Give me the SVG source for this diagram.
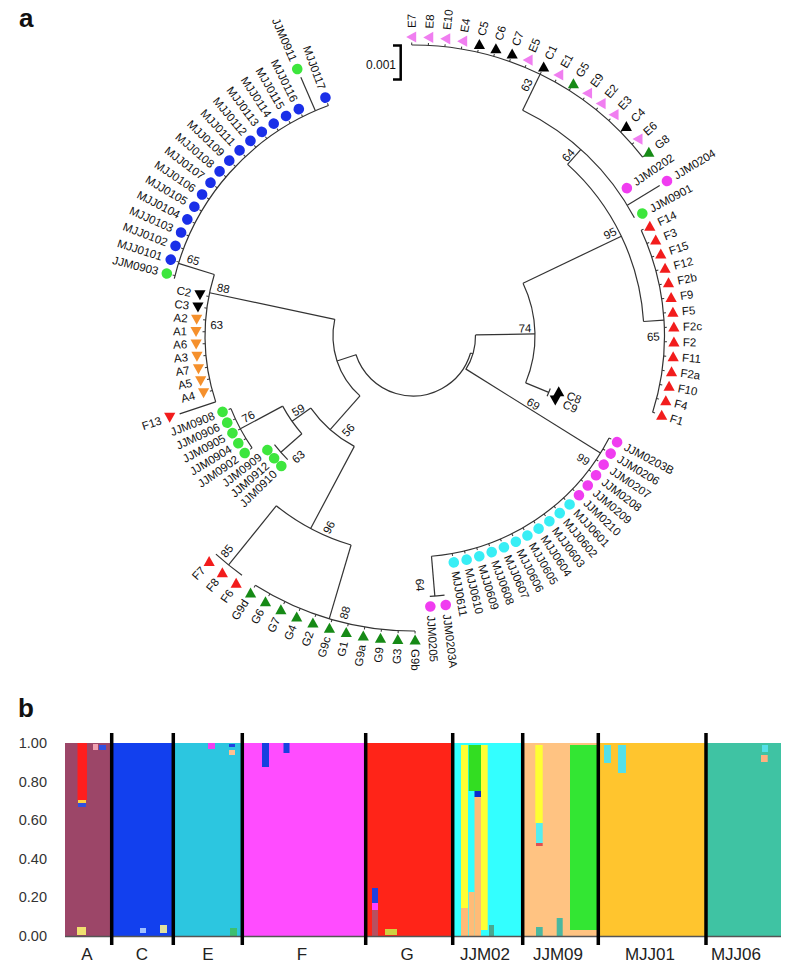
<svg xmlns="http://www.w3.org/2000/svg" width="796" height="968" viewBox="0 0 796 968">
<style>
text{font-family:"Liberation Sans",Arial,sans-serif;fill:#111}
.a{fill:none;stroke:#333;stroke-width:1.2}
.tk{stroke:#333;stroke-width:1}
.leaf text{font-size:11.5px;dominant-baseline:central}
.leaf text.l{text-anchor:end}
.bs{font-size:11.5px;text-anchor:middle;dominant-baseline:central}
.yl{font-size:14.5px;text-anchor:end;dominant-baseline:central;fill:#333}
.gl{font-size:17px;text-anchor:middle;fill:#222}
.sep{stroke:#000;stroke-width:3.5}
</style>
<defs>
<path id="tu" d="M0,-5.5L5.6,4.5L-5.6,4.5Z"/>
<path id="td" d="M0,5.5L5.6,-4.5L-5.6,-4.5Z"/>
<path id="tl" d="M-5.5,0L4.5,-5.6L4.5,5.6Z"/>
</defs>
<rect width="796" height="968" fill="#fff"/>
<text x="19" y="27" font-size="26" font-weight="bold">a</text>
<text x="18" y="717" font-size="26" font-weight="bold">b</text>

<g id="scale-bar">
<path d="M393,45.5H400.7V79.5H393" fill="none" stroke="#000" stroke-width="2.5"/>
<text x="396" y="65" font-size="12" text-anchor="end" dominant-baseline="central">0.001</text>
</g>

<g id="connectors">
<circle class="a" cx="413" cy="336" r="60" stroke-dasharray="152.16 4000" transform="rotate(16.5 413 336)"/>
<circle class="a" cx="413" cy="336" r="62.5" stroke-dasharray="36.54 4000" transform="rotate(-1 413 336)"/>
<circle class="a" cx="413" cy="336" r="122" stroke-dasharray="102.57 4000" transform="rotate(-25.6 413 336)"/>
<circle class="a" cx="413" cy="336" r="231" stroke-dasharray="179.01 4000" transform="rotate(-48 413 336)"/>
<circle class="a" cx="413" cy="336" r="251" stroke-dasharray="157.62 4000" transform="rotate(-64.1 413 336)"/>
<circle class="a" cx="413" cy="336" r="291" stroke-dasharray="265.73 4000" transform="rotate(-90.25 413 336)"/>
<circle class="a" cx="413" cy="336" r="251.5" stroke-dasharray="186.6 4000" transform="rotate(-24.85 413 336)"/>
<circle class="a" cx="413" cy="336" r="147" stroke-dasharray="8.39 4000" transform="rotate(20.93 413 336)"/>
<circle class="a" cx="413" cy="336" r="221" stroke-dasharray="222.67 4000" transform="rotate(27.47 413 336)"/>
<circle class="a" cx="413" cy="336" r="261" stroke-dasharray="14.9 4000" transform="rotate(83.06 413 336)"/>
<circle class="a" cx="413" cy="336" r="80" stroke-dasharray="84.47 4000" transform="rotate(131.5 413 336)"/>
<circle class="a" cx="413" cy="336" r="208" stroke-dasharray="129.46 4000" transform="rotate(161.54 413 336)"/>
<circle class="a" cx="413" cy="336" r="245.5" stroke-dasharray="241.36 4000" transform="rotate(193.5 413 336)"/>
<circle class="a" cx="413" cy="336" r="125" stroke-dasharray="58.47 4000" transform="rotate(118 413 336)"/>
<circle class="a" cx="413" cy="336" r="148" stroke-dasharray="33.79 4000" transform="rotate(138.65 413 336)"/>
<circle class="a" cx="413" cy="336" r="196" stroke-dasharray="44.75 4000" transform="rotate(145.19 413 336)"/>
<circle class="a" cx="413" cy="336" r="176" stroke-dasharray="20.09 4000" transform="rotate(135.38 413 336)"/>
<circle class="a" cx="413" cy="336" r="218" stroke-dasharray="85 4000" transform="rotate(106.5 413 336)"/>
<circle class="a" cx="413" cy="336" r="294" stroke-dasharray="33.56 4000" transform="rotate(125.57 413 336)"/>
<circle class="a" cx="413" cy="336" r="295" stroke-dasharray="168.36 4000" transform="rotate(89.6 413 336)"/>
<line class="a" x1="473" y1="336" x2="475.5" y2="336" transform="rotate(16.5 413 336)"/>
<line class="a" x1="475.5" y1="336" x2="535" y2="336" transform="rotate(-1 413 336)"/>
<line class="a" x1="535" y1="336" x2="644" y2="336" transform="rotate(-25.6 413 336)"/>
<line class="a" x1="644" y1="336" x2="664" y2="336" transform="rotate(-48 413 336)"/>
<line class="a" x1="664" y1="336" x2="704" y2="336" transform="rotate(-64.1 413 336)"/>
<line class="a" x1="664" y1="336" x2="702" y2="336" transform="rotate(-31.39 413 336)"/>
<line class="a" x1="644" y1="336" x2="664.5" y2="336" transform="rotate(-3.6 413 336)"/>
<line class="a" x1="535" y1="336" x2="560" y2="336" transform="rotate(22.57 413 336)"/>
<line class="a" x1="475.5" y1="336" x2="634" y2="336" transform="rotate(32 413 336)"/>
<line class="a" x1="634" y1="336" x2="674" y2="336" transform="rotate(85.2 413 336)"/>
<line class="a" x1="473" y1="336" x2="493" y2="336" transform="rotate(161.8 413 336)"/>
<line class="a" x1="493" y1="336" x2="621" y2="336" transform="rotate(192 413 336)"/>
<line class="a" x1="621" y1="336" x2="658.5" y2="336" transform="rotate(197.2 413 336)"/>
<line class="a" x1="658.5" y1="336" x2="695" y2="336" transform="rotate(246.56 413 336)"/>
<line class="a" x1="621" y1="336" x2="659" y2="336" transform="rotate(161.54 413 336)"/>
<line class="a" x1="493" y1="336" x2="538" y2="336" transform="rotate(131.5 413 336)"/>
<line class="a" x1="538" y1="336" x2="561" y2="336" transform="rotate(144.8 413 336)"/>
<line class="a" x1="561" y1="336" x2="609" y2="336" transform="rotate(151.73 413 336)"/>
<line class="a" x1="561" y1="336" x2="589" y2="336" transform="rotate(138.65 413 336)"/>
<line class="a" x1="538" y1="336" x2="631" y2="336" transform="rotate(118 413 336)"/>
<line class="a" x1="631" y1="336" x2="707" y2="336" transform="rotate(128.84 413 336)"/>
<line class="a" x1="631" y1="336" x2="708" y2="336" transform="rotate(106.5 413 336)"/>
</g>

<g id="bootstrap">
<text class="bs" x="526.7" y="85" transform="rotate(-64.1 526.7 85)">63</text>
<text class="bs" x="568.3" y="155" transform="rotate(-48 568.3 155)">64</text>
<text class="bs" x="610" y="233.3" transform="rotate(-25.6 610 233.3)">95</text>
<text class="bs" x="525" y="328.3" transform="rotate(-1 525 328.3)">74</text>
<text class="bs" x="653.3" y="336.7" transform="rotate(-3.6 653.3 336.7)">65</text>
<text class="bs" x="533.3" y="404" transform="rotate(32 533.3 404)">69</text>
<text class="bs" x="583.3" y="459.3" transform="rotate(32 583.3 459.3)">99</text>
<text class="bs" x="420" y="585" transform="rotate(85.2 420 585)">64</text>
<text class="bs" x="345" y="612.7" transform="rotate(-73.5 345 612.7)">88</text>
<text class="bs" x="329" y="527.3" transform="rotate(-62 329 527.3)">96</text>
<text class="bs" x="227" y="551" transform="rotate(-51.2 227 551)">85</text>
<text class="bs" x="348.3" y="430" transform="rotate(-48.5 348.3 430)">56</text>
<text class="bs" x="298.3" y="410" transform="rotate(-30 298.3 410)">59</text>
<text class="bs" x="298.3" y="456.7" transform="rotate(-41.4 298.3 456.7)">63</text>
<text class="bs" x="248.3" y="416.7" transform="rotate(-28.3 248.3 416.7)">76</text>
<text class="bs" x="223.3" y="288.3" transform="rotate(12 223.3 288.3)">88</text>
<text class="bs" x="216.7" y="325" transform="rotate(-2 216.7 325)">63</text>
<text class="bs" x="193.3" y="260" transform="rotate(17.2 193.3 260)">65</text>
</g>

<g id="leaves">
<g id="leaf-E7" class="leaf" transform="rotate(-90.25 413 336)"><line class="tk" x1="704" y1="336" x2="706.5" y2="336"/><use href="#tl" fill="#f07ef0" transform="translate(712 336) rotate(90.25)"/><text x="721" y="336">E7</text></g>
<g id="leaf-E8" class="leaf" transform="rotate(-86.98 413 336)"><line class="tk" x1="704" y1="336" x2="706.5" y2="336"/><use href="#tl" fill="#f07ef0" transform="translate(712 336) rotate(86.98)"/><text x="721" y="336">E8</text></g>
<g id="leaf-E10" class="leaf" transform="rotate(-83.71 413 336)"><line class="tk" x1="704" y1="336" x2="706.5" y2="336"/><use href="#tl" fill="#f07ef0" transform="translate(712 336) rotate(83.71)"/><text x="721" y="336">E10</text></g>
<g id="leaf-E4" class="leaf" transform="rotate(-80.44 413 336)"><line class="tk" x1="704" y1="336" x2="706.5" y2="336"/><use href="#tl" fill="#f07ef0" transform="translate(712 336) rotate(80.44)"/><text x="721" y="336">E4</text></g>
<g id="leaf-C5" class="leaf" transform="rotate(-77.17 413 336)"><line class="tk" x1="704" y1="336" x2="706.5" y2="336"/><use href="#tu" fill="#000" transform="translate(712 336) rotate(77.17)"/><text x="721" y="336">C5</text></g>
<g id="leaf-C6" class="leaf" transform="rotate(-73.9 413 336)"><line class="tk" x1="704" y1="336" x2="706.5" y2="336"/><use href="#tu" fill="#000" transform="translate(712 336) rotate(73.9)"/><text x="721" y="336">C6</text></g>
<g id="leaf-C7" class="leaf" transform="rotate(-70.63 413 336)"><line class="tk" x1="704" y1="336" x2="706.5" y2="336"/><use href="#tu" fill="#000" transform="translate(712 336) rotate(70.63)"/><text x="721" y="336">C7</text></g>
<g id="leaf-E5" class="leaf" transform="rotate(-67.36 413 336)"><line class="tk" x1="704" y1="336" x2="706.5" y2="336"/><use href="#tl" fill="#f07ef0" transform="translate(712 336) rotate(67.36)"/><text x="721" y="336">E5</text></g>
<g id="leaf-C1" class="leaf" transform="rotate(-64.09 413 336)"><line class="tk" x1="704" y1="336" x2="706.5" y2="336"/><use href="#tu" fill="#000" transform="translate(712 336) rotate(64.09)"/><text x="721" y="336">C1</text></g>
<g id="leaf-E1" class="leaf" transform="rotate(-60.82 413 336)"><line class="tk" x1="704" y1="336" x2="706.5" y2="336"/><use href="#tl" fill="#f07ef0" transform="translate(712 336) rotate(60.82)"/><text x="721" y="336">E1</text></g>
<g id="leaf-G5" class="leaf" transform="rotate(-57.55 413 336)"><line class="tk" x1="704" y1="336" x2="706.5" y2="336"/><use href="#tu" fill="#168a16" transform="translate(712 336) rotate(57.55)"/><text x="721" y="336">G5</text></g>
<g id="leaf-E9" class="leaf" transform="rotate(-54.28 413 336)"><line class="tk" x1="704" y1="336" x2="706.5" y2="336"/><use href="#tl" fill="#f07ef0" transform="translate(712 336) rotate(54.28)"/><text x="721" y="336">E9</text></g>
<g id="leaf-E2" class="leaf" transform="rotate(-51.01 413 336)"><line class="tk" x1="704" y1="336" x2="706.5" y2="336"/><use href="#tl" fill="#f07ef0" transform="translate(712 336) rotate(51.01)"/><text x="721" y="336">E2</text></g>
<g id="leaf-E3" class="leaf" transform="rotate(-47.74 413 336)"><line class="tk" x1="704" y1="336" x2="706.5" y2="336"/><use href="#tl" fill="#f07ef0" transform="translate(712 336) rotate(47.74)"/><text x="721" y="336">E3</text></g>
<g id="leaf-C4" class="leaf" transform="rotate(-44.47 413 336)"><line class="tk" x1="704" y1="336" x2="706.5" y2="336"/><use href="#tu" fill="#000" transform="translate(712 336) rotate(44.47)"/><text x="721" y="336">C4</text></g>
<g id="leaf-E6" class="leaf" transform="rotate(-41.2 413 336)"><line class="tk" x1="704" y1="336" x2="706.5" y2="336"/><use href="#tl" fill="#f07ef0" transform="translate(712 336) rotate(41.2)"/><text x="721" y="336">E6</text></g>
<g id="leaf-G8" class="leaf" transform="rotate(-37.93 413 336)"><line class="tk" x1="704" y1="336" x2="706.5" y2="336"/><use href="#tu" fill="#168a16" transform="translate(712 336) rotate(37.93)"/><text x="721" y="336">G8</text></g>
<g id="leaf-JJM0202" class="leaf" transform="rotate(-34.66 413 336)"><circle cx="673" cy="336" r="5.3" fill="#f03cf0"/><text x="682" y="336">JJM0202</text></g>
<g id="leaf-JJM0204" class="leaf" transform="rotate(-31.39 413 336)"><circle cx="710.5" cy="336" r="5.3" fill="#f03cf0"/><text x="719.5" y="336">JJM0204</text></g>
<g id="leaf-JJM0901" class="leaf" transform="rotate(-28.12 413 336)"><circle cx="673" cy="336" r="5.3" fill="#3de63d"/><text x="682" y="336">JJM0901</text></g>
<g id="leaf-F14" class="leaf" transform="rotate(-24.85 413 336)"><line class="tk" x1="664.5" y1="336" x2="667" y2="336"/><use href="#tu" fill="#f21c1c" transform="translate(674 336) rotate(24.85)"/><text x="683" y="336">F14</text></g>
<g id="leaf-F3" class="leaf" transform="rotate(-21.58 413 336)"><line class="tk" x1="664.5" y1="336" x2="667" y2="336"/><use href="#tu" fill="#f21c1c" transform="translate(674 336) rotate(21.58)"/><text x="683" y="336">F3</text></g>
<g id="leaf-F15" class="leaf" transform="rotate(-18.31 413 336)"><line class="tk" x1="664.5" y1="336" x2="667" y2="336"/><use href="#tu" fill="#f21c1c" transform="translate(674 336) rotate(18.31)"/><text x="683" y="336">F15</text></g>
<g id="leaf-F12" class="leaf" transform="rotate(-15.04 413 336)"><line class="tk" x1="664.5" y1="336" x2="667" y2="336"/><use href="#tu" fill="#f21c1c" transform="translate(674 336) rotate(15.04)"/><text x="683" y="336">F12</text></g>
<g id="leaf-F2b" class="leaf" transform="rotate(-11.77 413 336)"><line class="tk" x1="664.5" y1="336" x2="667" y2="336"/><use href="#tu" fill="#f21c1c" transform="translate(674 336) rotate(11.77)"/><text x="683" y="336">F2b</text></g>
<g id="leaf-F9" class="leaf" transform="rotate(-8.5 413 336)"><line class="tk" x1="664.5" y1="336" x2="667" y2="336"/><use href="#tu" fill="#f21c1c" transform="translate(674 336) rotate(8.5)"/><text x="683" y="336">F9</text></g>
<g id="leaf-F5" class="leaf" transform="rotate(-5.23 413 336)"><line class="tk" x1="664.5" y1="336" x2="667" y2="336"/><use href="#tu" fill="#f21c1c" transform="translate(674 336) rotate(5.23)"/><text x="683" y="336">F5</text></g>
<g id="leaf-F2c" class="leaf" transform="rotate(-1.96 413 336)"><line class="tk" x1="664.5" y1="336" x2="667" y2="336"/><use href="#tu" fill="#f21c1c" transform="translate(674 336) rotate(1.96)"/><text x="683" y="336">F2c</text></g>
<g id="leaf-F2" class="leaf" transform="rotate(1.31 413 336)"><line class="tk" x1="664.5" y1="336" x2="667" y2="336"/><use href="#tu" fill="#f21c1c" transform="translate(674 336) rotate(-1.31)"/><text x="683" y="336">F2</text></g>
<g id="leaf-F11" class="leaf" transform="rotate(4.58 413 336)"><line class="tk" x1="664.5" y1="336" x2="667" y2="336"/><use href="#tu" fill="#f21c1c" transform="translate(674 336) rotate(-4.58)"/><text x="683" y="336">F11</text></g>
<g id="leaf-F2a" class="leaf" transform="rotate(7.85 413 336)"><line class="tk" x1="664.5" y1="336" x2="667" y2="336"/><use href="#tu" fill="#f21c1c" transform="translate(674 336) rotate(-7.85)"/><text x="683" y="336">F2a</text></g>
<g id="leaf-F10" class="leaf" transform="rotate(11.12 413 336)"><line class="tk" x1="664.5" y1="336" x2="667" y2="336"/><use href="#tu" fill="#f21c1c" transform="translate(674 336) rotate(-11.12)"/><text x="683" y="336">F10</text></g>
<g id="leaf-F4" class="leaf" transform="rotate(14.39 413 336)"><line class="tk" x1="664.5" y1="336" x2="667" y2="336"/><use href="#tu" fill="#f21c1c" transform="translate(674 336) rotate(-14.39)"/><text x="683" y="336">F4</text></g>
<g id="leaf-F1" class="leaf" transform="rotate(17.66 413 336)"><line class="tk" x1="664.5" y1="336" x2="667" y2="336"/><use href="#tu" fill="#f21c1c" transform="translate(674 336) rotate(-17.66)"/><text x="683" y="336">F1</text></g>
<g id="leaf-C8" class="leaf" transform="rotate(20.93 413 336)"><use href="#tu" fill="#000" transform="translate(569 336) rotate(-20.93)"/><text x="578" y="336">C8</text></g>
<g id="leaf-C9" class="leaf" transform="rotate(24.2 413 336)"><use href="#td" fill="#000" transform="translate(569 336) rotate(-24.2)"/><text x="578" y="336">C9</text></g>
<g id="leaf-JJM0203B" class="leaf" transform="rotate(27.47 413 336)"><line class="tk" x1="634" y1="336" x2="636.5" y2="336"/><circle cx="643" cy="336" r="5.3" fill="#f03cf0"/><text x="652" y="336">JJM0203B</text></g>
<g id="leaf-JJM0206" class="leaf" transform="rotate(30.74 413 336)"><line class="tk" x1="634" y1="336" x2="636.5" y2="336"/><circle cx="643" cy="336" r="5.3" fill="#f03cf0"/><text x="652" y="336">JJM0206</text></g>
<g id="leaf-JJM0207" class="leaf" transform="rotate(34.01 413 336)"><line class="tk" x1="634" y1="336" x2="636.5" y2="336"/><circle cx="643" cy="336" r="5.3" fill="#f03cf0"/><text x="652" y="336">JJM0207</text></g>
<g id="leaf-JJM0208" class="leaf" transform="rotate(37.28 413 336)"><line class="tk" x1="634" y1="336" x2="636.5" y2="336"/><circle cx="643" cy="336" r="5.3" fill="#f03cf0"/><text x="652" y="336">JJM0208</text></g>
<g id="leaf-JJM0209" class="leaf" transform="rotate(40.55 413 336)"><line class="tk" x1="634" y1="336" x2="636.5" y2="336"/><circle cx="643" cy="336" r="5.3" fill="#f03cf0"/><text x="652" y="336">JJM0209</text></g>
<g id="leaf-JJM0210" class="leaf" transform="rotate(43.82 413 336)"><line class="tk" x1="634" y1="336" x2="636.5" y2="336"/><circle cx="643" cy="336" r="5.3" fill="#f03cf0"/><text x="652" y="336">JJM0210</text></g>
<g id="leaf-MJJ0601" class="leaf" transform="rotate(47.09 413 336)"><line class="tk" x1="634" y1="336" x2="636.5" y2="336"/><circle cx="643" cy="336" r="5.3" fill="#38eef5"/><text x="652" y="336">MJJ0601</text></g>
<g id="leaf-MJJ0602" class="leaf" transform="rotate(50.36 413 336)"><line class="tk" x1="634" y1="336" x2="636.5" y2="336"/><circle cx="643" cy="336" r="5.3" fill="#38eef5"/><text x="652" y="336">MJJ0602</text></g>
<g id="leaf-MJJ0603" class="leaf" transform="rotate(53.63 413 336)"><line class="tk" x1="634" y1="336" x2="636.5" y2="336"/><circle cx="643" cy="336" r="5.3" fill="#38eef5"/><text x="652" y="336">MJJ0603</text></g>
<g id="leaf-MJJ0604" class="leaf" transform="rotate(56.9 413 336)"><line class="tk" x1="634" y1="336" x2="636.5" y2="336"/><circle cx="643" cy="336" r="5.3" fill="#38eef5"/><text x="652" y="336">MJJ0604</text></g>
<g id="leaf-MJJ0605" class="leaf" transform="rotate(60.17 413 336)"><line class="tk" x1="634" y1="336" x2="636.5" y2="336"/><circle cx="643" cy="336" r="5.3" fill="#38eef5"/><text x="652" y="336">MJJ0605</text></g>
<g id="leaf-MJJ0606" class="leaf" transform="rotate(63.44 413 336)"><line class="tk" x1="634" y1="336" x2="636.5" y2="336"/><circle cx="643" cy="336" r="5.3" fill="#38eef5"/><text x="652" y="336">MJJ0606</text></g>
<g id="leaf-MJJ0607" class="leaf" transform="rotate(66.71 413 336)"><line class="tk" x1="634" y1="336" x2="636.5" y2="336"/><circle cx="643" cy="336" r="5.3" fill="#38eef5"/><text x="652" y="336">MJJ0607</text></g>
<g id="leaf-MJJ0608" class="leaf" transform="rotate(69.98 413 336)"><line class="tk" x1="634" y1="336" x2="636.5" y2="336"/><circle cx="643" cy="336" r="5.3" fill="#38eef5"/><text x="652" y="336">MJJ0608</text></g>
<g id="leaf-MJJ0609" class="leaf" transform="rotate(73.25 413 336)"><line class="tk" x1="634" y1="336" x2="636.5" y2="336"/><circle cx="643" cy="336" r="5.3" fill="#38eef5"/><text x="652" y="336">MJJ0609</text></g>
<g id="leaf-MJJ0610" class="leaf" transform="rotate(76.52 413 336)"><line class="tk" x1="634" y1="336" x2="636.5" y2="336"/><circle cx="643" cy="336" r="5.3" fill="#38eef5"/><text x="652" y="336">MJJ0610</text></g>
<g id="leaf-MJJ0611" class="leaf" transform="rotate(79.79 413 336)"><line class="tk" x1="634" y1="336" x2="636.5" y2="336"/><circle cx="643" cy="336" r="5.3" fill="#38eef5"/><text x="652" y="336">MJJ0611</text></g>
<g id="leaf-JJM0203A" class="leaf" transform="rotate(83.06 413 336)"><circle cx="684" cy="336" r="5.3" fill="#f03cf0"/><text x="693" y="336">JJM0203A</text></g>
<g id="leaf-JJM0205" class="leaf" transform="rotate(86.33 413 336)"><circle cx="684" cy="336" r="5.3" fill="#f03cf0"/><text x="693" y="336">JJM0205</text></g>
<g id="leaf-G9b" class="leaf" transform="rotate(89.6 413 336)"><line class="tk" x1="708" y1="336" x2="710.5" y2="336"/><use href="#tu" fill="#168a16" transform="translate(717 336) rotate(-89.6)"/><text x="726" y="336">G9b</text></g>

<g id="leaf-G3" class="leaf" transform="rotate(-87.13 413 336)"><line class="tk" x1="118" y1="336" x2="115.5" y2="336"/><use href="#tu" fill="#168a16" transform="translate(109 336) rotate(87.13)"/><text class="l" x="100" y="336">G3</text></g>
<g id="leaf-G9" class="leaf" transform="rotate(-83.86 413 336)"><line class="tk" x1="118" y1="336" x2="115.5" y2="336"/><use href="#tu" fill="#168a16" transform="translate(109 336) rotate(83.86)"/><text class="l" x="100" y="336">G9</text></g>
<g id="leaf-G9a" class="leaf" transform="rotate(-80.59 413 336)"><line class="tk" x1="118" y1="336" x2="115.5" y2="336"/><use href="#tu" fill="#168a16" transform="translate(109 336) rotate(80.59)"/><text class="l" x="100" y="336">G9a</text></g>
<g id="leaf-G1" class="leaf" transform="rotate(-77.32 413 336)"><line class="tk" x1="118" y1="336" x2="115.5" y2="336"/><use href="#tu" fill="#168a16" transform="translate(109 336) rotate(77.32)"/><text class="l" x="100" y="336">G1</text></g>
<g id="leaf-G9c" class="leaf" transform="rotate(-74.05 413 336)"><line class="tk" x1="118" y1="336" x2="115.5" y2="336"/><use href="#tu" fill="#168a16" transform="translate(109 336) rotate(74.05)"/><text class="l" x="100" y="336">G9c</text></g>
<g id="leaf-G2" class="leaf" transform="rotate(-70.78 413 336)"><line class="tk" x1="118" y1="336" x2="115.5" y2="336"/><use href="#tu" fill="#168a16" transform="translate(109 336) rotate(70.78)"/><text class="l" x="100" y="336">G2</text></g>
<g id="leaf-G4" class="leaf" transform="rotate(-67.51 413 336)"><line class="tk" x1="118" y1="336" x2="115.5" y2="336"/><use href="#tu" fill="#168a16" transform="translate(109 336) rotate(67.51)"/><text class="l" x="100" y="336">G4</text></g>
<g id="leaf-G7" class="leaf" transform="rotate(-64.24 413 336)"><line class="tk" x1="118" y1="336" x2="115.5" y2="336"/><use href="#tu" fill="#168a16" transform="translate(109 336) rotate(64.24)"/><text class="l" x="100" y="336">G7</text></g>
<g id="leaf-G6" class="leaf" transform="rotate(-60.97 413 336)"><line class="tk" x1="118" y1="336" x2="115.5" y2="336"/><use href="#tu" fill="#168a16" transform="translate(109 336) rotate(60.97)"/><text class="l" x="100" y="336">G6</text></g>
<g id="leaf-G9d" class="leaf" transform="rotate(-57.7 413 336)"><line class="tk" x1="118" y1="336" x2="115.5" y2="336"/><use href="#tu" fill="#168a16" transform="translate(109 336) rotate(57.7)"/><text class="l" x="100" y="336">G9d</text></g>
<g id="leaf-F6" class="leaf" transform="rotate(-54.43 413 336)"><use href="#tu" fill="#f21c1c" transform="translate(109 336) rotate(54.43)"/><text class="l" x="100" y="336">F6</text></g>
<g id="leaf-F8" class="leaf" transform="rotate(-51.16 413 336)"><use href="#tu" fill="#f21c1c" transform="translate(109 336) rotate(51.16)"/><text class="l" x="100" y="336">F8</text></g>
<g id="leaf-F7" class="leaf" transform="rotate(-47.89 413 336)"><use href="#tu" fill="#f21c1c" transform="translate(109 336) rotate(47.89)"/><text class="l" x="100" y="336">F7</text></g>
<g id="leaf-JJM0910" class="leaf" transform="rotate(-44.62 413 336)"><circle cx="228" cy="336" r="5.3" fill="#3de63d"/><text class="l" x="219" y="336">JJM0910</text></g>
<g id="leaf-JJM0912" class="leaf" transform="rotate(-41.35 413 336)"><circle cx="228" cy="336" r="5.3" fill="#3de63d"/><text class="l" x="219" y="336">JJM0912</text></g>
<g id="leaf-JJM0909" class="leaf" transform="rotate(-38.08 413 336)"><circle cx="228" cy="336" r="5.3" fill="#3de63d"/><text class="l" x="219" y="336">JJM0909</text></g>
<g id="leaf-JJM0902" class="leaf" transform="rotate(-34.81 413 336)"><line class="tk" x1="217" y1="336" x2="214.5" y2="336"/><circle cx="208" cy="336" r="5.3" fill="#3de63d"/><text class="l" x="199" y="336">JJM0902</text></g>
<g id="leaf-JJM0904" class="leaf" transform="rotate(-31.54 413 336)"><line class="tk" x1="217" y1="336" x2="214.5" y2="336"/><circle cx="208" cy="336" r="5.3" fill="#3de63d"/><text class="l" x="199" y="336">JJM0904</text></g>
<g id="leaf-JJM0905" class="leaf" transform="rotate(-28.27 413 336)"><line class="tk" x1="217" y1="336" x2="214.5" y2="336"/><circle cx="208" cy="336" r="5.3" fill="#3de63d"/><text class="l" x="199" y="336">JJM0905</text></g>
<g id="leaf-JJM0906" class="leaf" transform="rotate(-25 413 336)"><line class="tk" x1="217" y1="336" x2="214.5" y2="336"/><circle cx="208" cy="336" r="5.3" fill="#3de63d"/><text class="l" x="199" y="336">JJM0906</text></g>
<g id="leaf-JJM0908" class="leaf" transform="rotate(-21.73 413 336)"><line class="tk" x1="217" y1="336" x2="214.5" y2="336"/><circle cx="208" cy="336" r="5.3" fill="#3de63d"/><text class="l" x="199" y="336">JJM0908</text></g>
<g id="leaf-F13" class="leaf" transform="rotate(-18.46 413 336)"><use href="#td" fill="#f21c1c" transform="translate(156.5 336) rotate(18.46)"/><text class="l" x="147.5" y="336">F13</text></g>
<g id="leaf-A4" class="leaf" transform="rotate(-15.19 413 336)"><line class="tk" x1="205" y1="336" x2="202.5" y2="336"/><use href="#td" fill="#f5902c" transform="translate(196 336) rotate(15.19)"/><text class="l" x="187" y="336">A4</text></g>
<g id="leaf-A5" class="leaf" transform="rotate(-11.92 413 336)"><line class="tk" x1="205" y1="336" x2="202.5" y2="336"/><use href="#td" fill="#f5902c" transform="translate(196 336) rotate(11.92)"/><text class="l" x="187" y="336">A5</text></g>
<g id="leaf-A7" class="leaf" transform="rotate(-8.65 413 336)"><line class="tk" x1="205" y1="336" x2="202.5" y2="336"/><use href="#td" fill="#f5902c" transform="translate(196 336) rotate(8.65)"/><text class="l" x="187" y="336">A7</text></g>
<g id="leaf-A3" class="leaf" transform="rotate(-5.38 413 336)"><line class="tk" x1="205" y1="336" x2="202.5" y2="336"/><use href="#td" fill="#f5902c" transform="translate(196 336) rotate(5.38)"/><text class="l" x="187" y="336">A3</text></g>
<g id="leaf-A6" class="leaf" transform="rotate(-2.11 413 336)"><line class="tk" x1="205" y1="336" x2="202.5" y2="336"/><use href="#td" fill="#f5902c" transform="translate(196 336) rotate(2.11)"/><text class="l" x="187" y="336">A6</text></g>
<g id="leaf-A1" class="leaf" transform="rotate(1.16 413 336)"><line class="tk" x1="205" y1="336" x2="202.5" y2="336"/><use href="#td" fill="#f5902c" transform="translate(196 336) rotate(-1.16)"/><text class="l" x="187" y="336">A1</text></g>
<g id="leaf-A2" class="leaf" transform="rotate(4.43 413 336)"><line class="tk" x1="205" y1="336" x2="202.5" y2="336"/><use href="#td" fill="#f5902c" transform="translate(196 336) rotate(-4.43)"/><text class="l" x="187" y="336">A2</text></g>
<g id="leaf-C3" class="leaf" transform="rotate(7.7 413 336)"><line class="tk" x1="205" y1="336" x2="202.5" y2="336"/><use href="#td" fill="#000" transform="translate(196 336) rotate(-7.7)"/><text class="l" x="187" y="336">C3</text></g>
<g id="leaf-C2" class="leaf" transform="rotate(10.97 413 336)"><line class="tk" x1="205" y1="336" x2="202.5" y2="336"/><use href="#td" fill="#000" transform="translate(196 336) rotate(-10.97)"/><text class="l" x="187" y="336">C2</text></g>
<g id="leaf-JJM0903" class="leaf" transform="rotate(14.24 413 336)"><line class="tk" x1="167.5" y1="336" x2="165" y2="336"/><circle cx="159" cy="336" r="5.3" fill="#3de63d"/><text class="l" x="150" y="336">JJM0903</text></g>
<g id="leaf-MJJ0101" class="leaf" transform="rotate(17.51 413 336)"><line class="tk" x1="167.5" y1="336" x2="165" y2="336"/><circle cx="159" cy="336" r="5.3" fill="#1a2fe8"/><text class="l" x="150" y="336">MJJ0101</text></g>
<g id="leaf-MJJ0102" class="leaf" transform="rotate(20.78 413 336)"><line class="tk" x1="167.5" y1="336" x2="165" y2="336"/><circle cx="159" cy="336" r="5.3" fill="#1a2fe8"/><text class="l" x="150" y="336">MJJ0102</text></g>
<g id="leaf-MJJ0103" class="leaf" transform="rotate(24.05 413 336)"><line class="tk" x1="167.5" y1="336" x2="165" y2="336"/><circle cx="159" cy="336" r="5.3" fill="#1a2fe8"/><text class="l" x="150" y="336">MJJ0103</text></g>
<g id="leaf-MJJ0104" class="leaf" transform="rotate(27.32 413 336)"><line class="tk" x1="167.5" y1="336" x2="165" y2="336"/><circle cx="159" cy="336" r="5.3" fill="#1a2fe8"/><text class="l" x="150" y="336">MJJ0104</text></g>
<g id="leaf-MJJ0105" class="leaf" transform="rotate(30.59 413 336)"><line class="tk" x1="167.5" y1="336" x2="165" y2="336"/><circle cx="159" cy="336" r="5.3" fill="#1a2fe8"/><text class="l" x="150" y="336">MJJ0105</text></g>
<g id="leaf-MJJ0106" class="leaf" transform="rotate(33.86 413 336)"><line class="tk" x1="167.5" y1="336" x2="165" y2="336"/><circle cx="159" cy="336" r="5.3" fill="#1a2fe8"/><text class="l" x="150" y="336">MJJ0106</text></g>
<g id="leaf-MJJ0107" class="leaf" transform="rotate(37.13 413 336)"><line class="tk" x1="167.5" y1="336" x2="165" y2="336"/><circle cx="159" cy="336" r="5.3" fill="#1a2fe8"/><text class="l" x="150" y="336">MJJ0107</text></g>
<g id="leaf-MJJ0108" class="leaf" transform="rotate(40.4 413 336)"><line class="tk" x1="167.5" y1="336" x2="165" y2="336"/><circle cx="159" cy="336" r="5.3" fill="#1a2fe8"/><text class="l" x="150" y="336">MJJ0108</text></g>
<g id="leaf-MJJ0109" class="leaf" transform="rotate(43.67 413 336)"><line class="tk" x1="167.5" y1="336" x2="165" y2="336"/><circle cx="159" cy="336" r="5.3" fill="#1a2fe8"/><text class="l" x="150" y="336">MJJ0109</text></g>
<g id="leaf-MJJ0111" class="leaf" transform="rotate(46.94 413 336)"><line class="tk" x1="167.5" y1="336" x2="165" y2="336"/><circle cx="159" cy="336" r="5.3" fill="#1a2fe8"/><text class="l" x="150" y="336">MJJ0111</text></g>
<g id="leaf-MJJ0112" class="leaf" transform="rotate(50.21 413 336)"><line class="tk" x1="167.5" y1="336" x2="165" y2="336"/><circle cx="159" cy="336" r="5.3" fill="#1a2fe8"/><text class="l" x="150" y="336">MJJ0112</text></g>
<g id="leaf-MJJ0113" class="leaf" transform="rotate(53.48 413 336)"><line class="tk" x1="167.5" y1="336" x2="165" y2="336"/><circle cx="159" cy="336" r="5.3" fill="#1a2fe8"/><text class="l" x="150" y="336">MJJ0113</text></g>
<g id="leaf-MJJ0114" class="leaf" transform="rotate(56.75 413 336)"><line class="tk" x1="167.5" y1="336" x2="165" y2="336"/><circle cx="159" cy="336" r="5.3" fill="#1a2fe8"/><text class="l" x="150" y="336">MJJ0114</text></g>
<g id="leaf-MJJ0115" class="leaf" transform="rotate(60.02 413 336)"><line class="tk" x1="167.5" y1="336" x2="165" y2="336"/><circle cx="159" cy="336" r="5.3" fill="#1a2fe8"/><text class="l" x="150" y="336">MJJ0115</text></g>
<g id="leaf-MJJ0116" class="leaf" transform="rotate(63.29 413 336)"><line class="tk" x1="167.5" y1="336" x2="165" y2="336"/><circle cx="159" cy="336" r="5.3" fill="#1a2fe8"/><text class="l" x="150" y="336">MJJ0116</text></g>
<g id="leaf-JJM0911" class="leaf" transform="rotate(66.56 413 336)"><circle cx="122" cy="336" r="5.3" fill="#3de63d"/><text class="l" x="113" y="336">JJM0911</text></g>
<g id="leaf-MJJ0117" class="leaf" transform="rotate(69.83 413 336)"><line class="tk" x1="167.5" y1="336" x2="165" y2="336"/><circle cx="159" cy="336" r="5.3" fill="#1a2fe8"/><text class="l" x="150" y="336">MJJ0117</text></g>
</g>

<g id="panel-b">
<rect x="65" y="743" width="46.7" height="193" fill="#9c4668"/>
<rect x="111.7" y="743" width="61.6" height="193" fill="#1240ee"/>
<rect x="173.3" y="743" width="69" height="193" fill="#2cc6e0"/>
<rect x="242.3" y="743" width="123.4" height="193" fill="#ff4cff"/>
<rect x="365.7" y="743" width="87" height="193" fill="#ff2418"/>
<rect x="452.7" y="743" width="70" height="193" fill="#33ffff"/>
<rect x="522.7" y="743" width="75.6" height="193" fill="#ffc382"/>
<rect x="598.3" y="743" width="107.7" height="193" fill="#ffc52e"/>
<rect x="706" y="743" width="75" height="193" fill="#3fc3a3"/>
<rect x="77.5" y="743" width="9.5" height="57" fill="#ff1e1e"/>
<rect x="78" y="800" width="8" height="3" fill="#ffd040"/>
<rect x="78" y="803" width="8" height="4" fill="#3050e0"/>
<rect x="93" y="744" width="5" height="6" fill="#f0a0b0"/>
<rect x="99" y="745" width="7" height="5" fill="#3050e0"/>
<rect x="77" y="927" width="9" height="8" fill="#f0e070"/>
<rect x="140" y="928" width="6" height="5" fill="#a0c0ff"/>
<rect x="160" y="925" width="7" height="8" fill="#e0e0a0"/>
<rect x="208" y="743" width="7" height="6" fill="#f040f0"/>
<rect x="229" y="744" width="6" height="3" fill="#2040e0"/>
<rect x="229" y="750" width="6" height="5" fill="#ffc090"/>
<rect x="230" y="928" width="7" height="8" fill="#3dbf70"/>
<rect x="262" y="743" width="7" height="24" fill="#1740e0"/>
<rect x="283.5" y="743" width="6" height="10" fill="#1740e0"/>
<rect x="372" y="888" width="6" height="15" fill="#2040e0"/>
<rect x="372" y="903" width="6" height="7" fill="#ff40ff"/>
<rect x="372" y="910" width="6" height="26" fill="#b85060"/>
<rect x="385" y="929" width="12" height="6" fill="#d0d040"/>
<rect x="461" y="745" width="7" height="163" fill="#ffff33"/>
<rect x="461" y="908" width="7" height="28" fill="#ffbb77"/>
<rect x="468.7" y="745" width="12.3" height="46" fill="#33dd22"/>
<rect x="474.5" y="791" width="6.5" height="6" fill="#0a2acc"/>
<rect x="468.7" y="892" width="5.8" height="44" fill="#ffbb77"/>
<rect x="474.5" y="797" width="6.5" height="139" fill="#ffbb77"/>
<rect x="481" y="745" width="6.7" height="185" fill="#ffff33"/>
<rect x="489" y="925" width="5" height="11" fill="#4aa890"/>
<rect x="535.3" y="745" width="7.4" height="78" fill="#ffff33"/>
<rect x="536" y="823" width="6.7" height="20" fill="#55eef0"/>
<rect x="536" y="843" width="6.7" height="3" fill="#e05050"/>
<rect x="570" y="745" width="27" height="185" fill="#33e633"/>
<rect x="536" y="927" width="6.7" height="9" fill="#4ab8a0"/>
<rect x="556.7" y="918" width="6" height="18" fill="#4ab8a0"/>
<rect x="604" y="745" width="7" height="18" fill="#55e0e8"/>
<rect x="618" y="745" width="8" height="28" fill="#55e0e8"/>
<rect x="761" y="755" width="6.7" height="7" fill="#ffb080"/>
<rect x="762" y="745" width="6" height="7" fill="#55e0e8"/>
<line x1="65" y1="936.5" x2="781" y2="936.5" stroke="#555" stroke-width="1.5"/>
<line class="sep" x1="111.7" y1="733" x2="111.7" y2="945"/>
<line class="sep" x1="173.3" y1="733" x2="173.3" y2="945"/>
<line class="sep" x1="242.3" y1="733" x2="242.3" y2="945"/>
<line class="sep" x1="365.7" y1="733" x2="365.7" y2="945"/>
<line class="sep" x1="452.7" y1="733" x2="452.7" y2="945"/>
<line class="sep" x1="522.7" y1="733" x2="522.7" y2="945"/>
<line class="sep" x1="598.3" y1="733" x2="598.3" y2="945"/>
<line class="sep" x1="706" y1="733" x2="706" y2="945"/>
<text class="yl" x="47" y="743">1.00</text>
<text class="yl" x="47" y="781.6">0.80</text>
<text class="yl" x="47" y="820.2">0.60</text>
<text class="yl" x="47" y="858.8">0.40</text>
<text class="yl" x="47" y="897.4">0.20</text>
<text class="yl" x="47" y="936">0.00</text>
<text class="gl" x="87" y="960">A</text>
<text class="gl" x="142" y="960">C</text>
<text class="gl" x="208" y="960">E</text>
<text class="gl" x="302" y="960">F</text>
<text class="gl" x="407" y="960">G</text>
<text class="gl" x="485" y="960">JJM02</text>
<text class="gl" x="558" y="960">JJM09</text>
<text class="gl" x="650" y="960">MJJ01</text>
<text class="gl" x="736" y="960">MJJ06</text>
</g>
</svg>
